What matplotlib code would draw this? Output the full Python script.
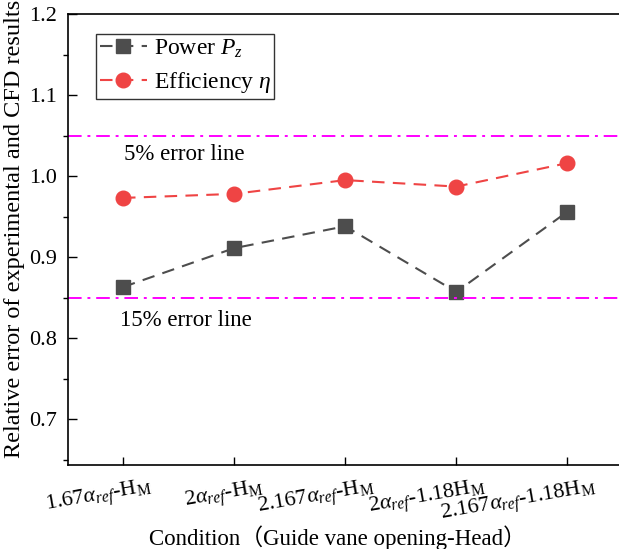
import numpy as np
import matplotlib
matplotlib.use('Agg')
from matplotlib import pyplot as plt
from matplotlib import transforms
from matplotlib.ticker import MultipleLocator

plt.rcParams['font.family'] = ['Liberation Serif', 'Noto Sans CJK SC']
plt.rcParams['mathtext.fontset'] = 'custom'
plt.rcParams['mathtext.rm'] = 'Liberation Serif'
plt.rcParams['mathtext.it'] = 'Liberation Serif:italic'
plt.rcParams['mathtext.bf'] = 'Liberation Serif:bold'

# data
conditions = [r'1.67$\mathit{\alpha_{ref}}$-H$_{\rm M}$',
              r'2$\mathit{\alpha_{ref}}$-H$_{\rm M}$',
              r'2.167$\mathit{\alpha_{ref}}$-H$_{\rm M}$',
              r'2$\mathit{\alpha_{ref}}$-1.18H$_{\rm M}$',
              r'2.167$\mathit{\alpha_{ref}}$-1.18H$_{\rm M}$']
power = [0.863, 0.911, 0.938, 0.857, 0.956]
efficiency = [0.973, 0.978, 0.995, 0.987, 1.016]
err_upper = 1.05
err_lower = 0.85

fig = plt.figure(figsize=(6.19, 5.49), dpi=100)
ax = fig.add_axes([68/619, 1 - 464.5/549, 555/619, (464.5 - 14)/549])

xs = np.arange(1, len(conditions) + 1)
ax.plot(xs, power, ls=(0, (6, 4)), color='#4d4d4d', lw=1.5, marker='s',
        ms=9.5, label=r'Power $P_z$')
ax.plot(xs, efficiency, ls=(0, (6, 4)), color='#ef4444', lw=1.5, marker='o',
        ms=10.5, label=r'Efficiency $\eta$')

ax.axhline(err_upper, color='#ff00ff', ls=(0, (7, 3, 1.5, 3)), lw=1.4)
ax.axhline(err_lower, color='#ff00ff', ls=(0, (7, 3, 1.5, 3)), lw=1.4)
ax.text(1.01, 1.027, '5% error line', fontsize=16.5, va='center', ha='left')
ax.text(0.97, 0.822, '15% error line', fontsize=16.5, va='center', ha='left')

ax.set_xlim(0.505, 5.5)
ax.set_ylim(0.644, 1.2)
ax.yaxis.set_major_locator(MultipleLocator(0.1))
ax.yaxis.set_minor_locator(MultipleLocator(0.05))
ax.set_xticks(xs)
ax.set_xticklabels(conditions, rotation=10, ha='right', fontsize=16)

ax.tick_params(axis='both', direction='in', labelsize=16, width=1, pad=8)
ax.tick_params(axis='y', which='major', length=6.5)
ax.tick_params(axis='y', which='minor', length=3.5, width=1)
ax.tick_params(axis='x', length=6, labelsize=16)
for s in ax.spines.values():
    s.set_linewidth(1.2)

# shift the rotated labels right, like the original
off = transforms.ScaledTranslation(31/100, 0, fig.dpi_scale_trans)
for lab in ax.get_xticklabels():
    lab.set_transform(lab.get_transform() + off)

ax.set_ylabel('Relative error of experimental and CFD results', fontsize=17.5)
ax.yaxis.set_label_coords(-0.0955, 0.524)
ax.yaxis.label.set_va('center')
ax.set_xlabel('Condition（Guide vane opening-Head）', fontsize=16.5)
ax.xaxis.set_label_coords(0.4856, -0.163)
ax.xaxis.label.set_va('center')

leg = ax.legend(loc='upper left', bbox_to_anchor=(28/555, 1 - 20/450.5),
                fontsize=17, frameon=True, fancybox=False, edgecolor='black',
                handlelength=2.0, borderpad=0.15, labelspacing=0.45,
                handletextpad=0.3, borderaxespad=0)
leg.get_frame().set_linewidth(1.0)

fig.savefig('out.png', dpi=100)
